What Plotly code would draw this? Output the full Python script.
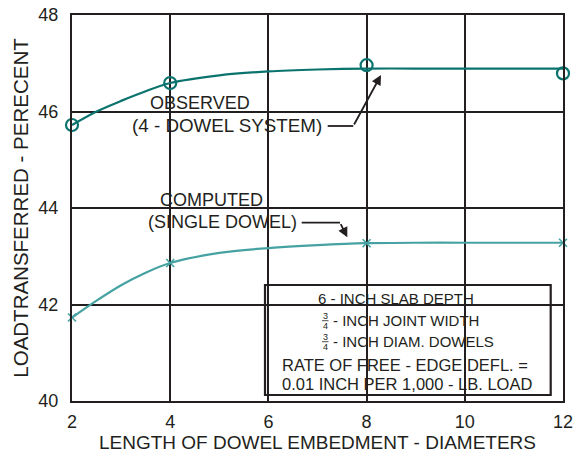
import plotly.graph_objects as go

# ---- data ----
x_ticks = [2, 4, 6, 8, 10, 12]
y_ticks = [40, 42, 44, 46, 48]

obs_x = [2, 4, 8, 12]
obs_y = [45.72, 46.59, 46.96, 46.79]
obs_curve_x = [2, 2.5, 3, 3.5, 4, 5, 6, 7, 8, 9, 10, 11, 12]
obs_curve_y = [45.72, 46.00, 46.22, 46.42, 46.59, 46.75, 46.83, 46.87, 46.89, 46.89, 46.89, 46.89, 46.89]

comp_x = [2, 4, 8, 12]
comp_y = [41.73, 42.86, 43.27, 43.28]
comp_curve_x = [2, 2.5, 3, 3.5, 4, 5, 6, 7, 8, 9, 10, 11, 12]
comp_curve_y = [41.73, 42.08, 42.40, 42.66, 42.86, 43.07, 43.17, 43.23, 43.27, 43.28, 43.28, 43.28, 43.28]

FONT = "Liberation Sans, Arial, sans-serif"
INK = "#231f20"
OBS_C = "#0b736e"
COMP_C = "#46a2a2"

# pixel -> data helpers for annotation placement (plot area 72..563, 15..401)
def dx(px):
    return 2 + (px - 72) / 49.1

def dy(py):
    return 48 - (py - 15) / 48.25

fig = go.Figure()

fig.add_trace(go.Scatter(x=obs_curve_x, y=obs_curve_y, mode="lines",
                         line=dict(color=OBS_C, width=2.2, shape="spline", smoothing=0.8),
                         hoverinfo="skip", showlegend=False))
fig.add_trace(go.Scatter(x=obs_x, y=obs_y, mode="markers",
                         marker=dict(symbol="circle-open", size=12, color=OBS_C,
                                     line=dict(width=2.2, color=OBS_C)),
                         showlegend=False, cliponaxis=False))
fig.add_trace(go.Scatter(x=comp_curve_x, y=comp_curve_y, mode="lines",
                         line=dict(color=COMP_C, width=2.2, shape="spline", smoothing=0.8),
                         hoverinfo="skip", showlegend=False))
fig.add_trace(go.Scatter(x=comp_x, y=comp_y, mode="markers",
                         marker=dict(symbol="x-thin", size=8, color=COMP_C,
                                     line=dict(width=1.6, color=COMP_C)),
                         showlegend=False, cliponaxis=False))

anns = []
def txt(t, px, py, size, anchor="center"):
    anns.append(dict(x=dx(px), y=dy(py), xref="x", yref="y", text=t, showarrow=False,
                     xanchor=anchor, yanchor="middle",
                     font=dict(family=FONT, size=size, color=INK)))

txt("OBSERVED", 200, 103, 18)
txt("(4 - DOWEL SYSTEM)", 227, 125, 18.8)
txt("COMPUTED", 211, 200, 18)
txt("(SINGLE DOWEL)", 222, 222, 18)

txt("6 - INCH SLAB DEPTH", 396, 298.5, 15)
txt("- INCH JOINT WIDTH", 331, 320, 15, "left")
txt("- INCH DIAM. DOWELS", 331, 341, 15, "left")
txt("3", 325, 315.5, 9)
txt("4", 325, 325.5, 9)
txt("3", 325, 336.5, 9)
txt("4", 325, 346.5, 9)
txt("RATE OF FREE - EDGE DEFL. =", 280, 365, 16.5, "left")
txt("0.01 INCH PER 1,000 - LB. LOAD", 280, 384, 16.5, "left")

# arrows
anns.append(dict(x=dx(381), y=dy(75), ax=dx(353.3), ay=dy(126), xref="x", yref="y",
                 axref="x", ayref="y", text="", showarrow=True, arrowhead=2,
                 arrowsize=1.1, arrowwidth=1.8, arrowcolor=INK, standoff=0))
anns.append(dict(x=dx(347.3), y=dy(237.3), ax=dx(340), ay=dy(222.7), xref="x", yref="y",
                 axref="x", ayref="y", text="", showarrow=True, arrowhead=2,
                 arrowsize=1.1, arrowwidth=1.8, arrowcolor=INK, standoff=0))

shapes = [
    dict(type="line", x0=dx(327.7), y0=dy(126), x1=dx(353.3), y1=dy(126), xref="x", yref="y",
         line=dict(color=INK, width=1.8)),
    dict(type="line", x0=dx(301.7), y0=dy(222.7), x1=dx(340), y1=dy(222.7), xref="x", yref="y",
         line=dict(color=INK, width=1.8)),
    dict(type="rect", x0=dx(265), y0=dy(395), x1=dx(550.7), y1=dy(285), xref="x", yref="y",
         line=dict(color=INK, width=2.2), fillcolor="rgba(0,0,0,0)"),
    dict(type="line", x0=dx(322), y0=dy(320.7), x1=dx(328.5), y1=dy(320.7), xref="x", yref="y",
         line=dict(color=INK, width=0.8)),
    dict(type="line", x0=dx(322), y0=dy(341.7), x1=dx(328.5), y1=dy(341.7), xref="x", yref="y",
         line=dict(color=INK, width=0.8)),
]

fig.update_layout(
    width=576, height=457,
    margin=dict(l=72, r=13, t=15, b=56, autoexpand=False),
    paper_bgcolor="white", plot_bgcolor="white",
    font=dict(family=FONT, color=INK),
    annotations=anns, shapes=shapes,
    xaxis=dict(range=[2, 12], tickvals=x_ticks, showgrid=True, gridcolor=INK, gridwidth=2,
               showline=True, linecolor=INK, linewidth=2, mirror=True, zeroline=False,
               automargin=False,
               tickfont=dict(size=18, family=FONT, color=INK), ticks="", ticklabelstandoff=3,
               title=dict(text="LENGTH OF DOWEL EMBEDMENT - DIAMETERS",
                          font=dict(size=19, family=FONT, color=INK), standoff=4)),
    yaxis=dict(range=[40, 48], tickvals=y_ticks, showgrid=True, gridcolor=INK, gridwidth=2,
               showline=True, linecolor=INK, linewidth=2, mirror=True, zeroline=False,
               automargin=False,
               tickfont=dict(size=18, family=FONT, color=INK), ticks="", ticklabelstandoff=8,
               title=dict(text="LOADTRANSFERRED - PERECENT",
                          font=dict(size=20.5, family=FONT, color=INK), standoff=4)),
)

fig.write_html("out.html", config={"displayModeBar": False},
               post_script="document.body.style.margin='0';document.body.style.overflow='hidden';")
